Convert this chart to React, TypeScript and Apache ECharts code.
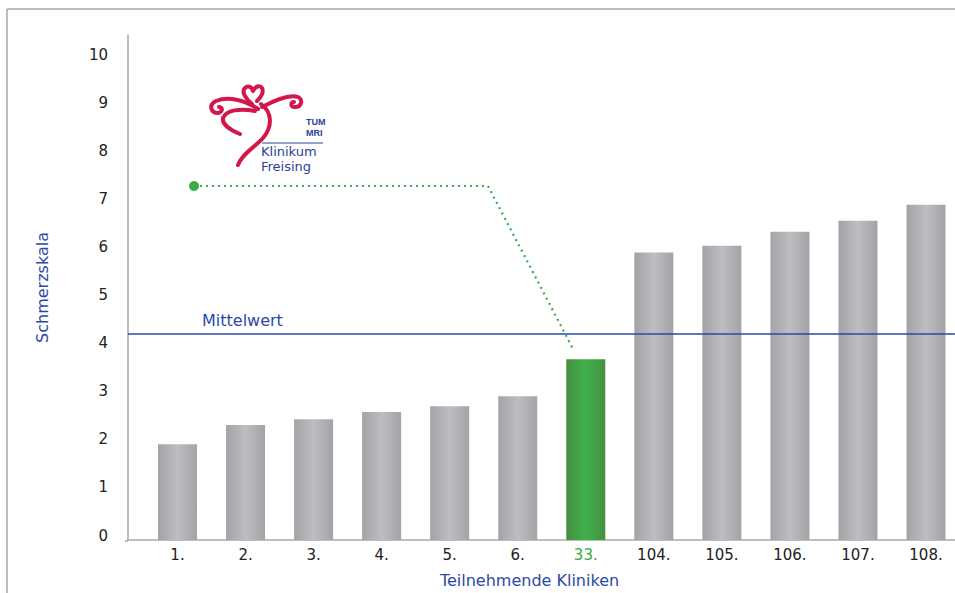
import React, { useEffect, useRef } from "react";
import * as echarts from "echarts";

const categories = ["1.", "2.", "3.", "4.", "5.", "6.", "33.", "104.", "105.", "106.", "107.", "108."];
const painValues = [1.99, 2.39, 2.51, 2.66, 2.78, 2.99, 3.76, 5.98, 6.12, 6.41, 6.64, 6.97];
const highlightIndex = 6;
const meanValue = 4.29;
const yTicks = [0, 1, 2, 3, 4, 5, 6, 7, 8, 9, 10];

const BLUE = "#2b4aa6";
const GREEN = "#3cab48";
const RED = "#d3164b";
const LOGO_BLUE = "#2d4199";

const ribbonPaths = [
  "M 252 104 C 246 99 241 92 245 88 C 248 85 252 87 253 91 C 255 86 260 85 262 88 C 264 92 261 97 257 101",
  "M 261 104 C 272 112 273 126 263 138 C 254 148 242 154 238 165",
  "M 258 109 C 245 100 228 96 216 101 C 208 105 211 113 218 113 C 223 112 223 107 219 107",
  "M 255 111 C 240 108 226 110 223 118 C 222 124 230 130 240 134",
  "M 262 107 C 275 100 290 94 298 97 C 304 100 301 108 294 107 C 290 106 291 102 294 102",
];

let registered = false;
function registerShapes() {
  if (registered) return;
  ribbonPaths.forEach((d, i) => {
    echarts.graphic.registerShape("ribbon" + i, echarts.graphic.extendPath(d, {}));
  });
  registered = true;
}

export default function App() {
  const ref = useRef<HTMLDivElement>(null);
  useEffect(() => {
    if (!ref.current) return;
    registerShapes();
    const chart = echarts.init(ref.current, null, { renderer: "svg" });
    const grayGrad = new echarts.graphic.LinearGradient(0, 0, 1, 0, [
      { offset: 0, color: "#a2a3a7" },
      { offset: 0.5, color: "#bdbec2" },
      { offset: 1, color: "#a2a3a7" },
    ]);
    const greenGrad = new echarts.graphic.LinearGradient(0, 0, 1, 0, [
      { offset: 0, color: "#46903f" },
      { offset: 0.5, color: "#3fb04b" },
      { offset: 1, color: "#46903f" },
    ]);
    const font = "DejaVu Sans";
    const option: any = {
      animation: false,
      backgroundColor: "#ffffff",
      grid: { left: 128, right: 0, top: 35, bottom: 52 },
      xAxis: {
        type: "value",
        min: -0.7274,
        max: 11.426,
        name: "Teilnehmende Kliniken",
        nameLocation: "middle",
        nameGap: 32,
        nameTextStyle: { color: BLUE, fontSize: 16, fontFamily: font, padding: [0, 24, 0, 0] },
        axisLine: { show: true, onZero: false, lineStyle: { color: "#a8a8a8", width: 1.5 } },
        axisTick: { show: false },
        splitLine: { show: false },
        axisLabel: {
          customValues: categories.map((_, i) => i),
          formatter: (v: number) => {
            const i = Math.round(v);
            return i === highlightIndex ? "{hl|" + categories[i] + "}" : categories[i];
          },
          color: "#222",
          fontSize: 15,
          fontFamily: font,
          margin: 7,
          rich: { hl: { color: "#3aa83a", fontSize: 15, fontFamily: font } },
        },
      },
      yAxis: {
        type: "value",
        min: 0,
        max: 10.5,
        interval: 1,
        name: "Schmerzskala",
        nameLocation: "middle",
        nameGap: 78,
        nameRotate: 90,
        nameTextStyle: { color: BLUE, fontSize: 16, fontFamily: font },
        axisLine: { show: true, onZero: false, lineStyle: { color: "#a8a8a8", width: 1.5 } },
        axisTick: { show: false },
        splitLine: { show: false },
        axisLabel: {
          showMaxLabel: false,
          formatter: (v: number) => (yTicks.includes(v) ? String(v) : ""),
          color: "#222",
          fontSize: 15,
          fontFamily: font,
          margin: 20,
          verticalAlign: "bottom",
          lineHeight: 9,
        },
      },
      series: [
        {
          type: "bar",
          barWidth: 39,
          data: painValues.map((v, i) => ({
            value: [i, v],
            itemStyle: { color: i === highlightIndex ? greenGrad : grayGrad },
          })),
          markLine: {
            silent: true,
            symbol: "none",
            data: [{ yAxis: meanValue }],
            lineStyle: { color: BLUE, width: 1.5, type: "solid" },
            label: {
              show: true,
              formatter: "Mittelwert",
              position: "insideStartTop",
              color: BLUE,
              fontSize: 16,
              fontFamily: font,
              padding: [0, 0, 0, 69],
            },
          },
        },
      ],
      graphic: [
        { type: "line", shape: { x1: 7, y1: 9, x2: 955, y2: 9 }, style: { stroke: "#a8a8a8", lineWidth: 1.5 } },
        { type: "line", shape: { x1: 7, y1: 9, x2: 7, y2: 593 }, style: { stroke: "#a8a8a8", lineWidth: 1.5 } },
        { type: "line", shape: { x1: 125, y1: 541, x2: 128, y2: 541 }, style: { stroke: "#a8a8a8", lineWidth: 1.5 } },
        ...ribbonPaths.map((_, i) => ({
          type: "ribbon" + i,
          x: 0,
          y: 0,
          style: { fill: null, stroke: RED, lineWidth: 4, lineCap: "round", lineJoin: "round" },
        })),
        {
          type: "text",
          x: 306,
          y: 116,
          style: {
            text: "TUM\nMRI",
            fill: LOGO_BLUE,
            font: "bold 9px 'Liberation Sans Narrow', 'Liberation Sans'",
            lineHeight: 11,
          },
        },
        { type: "line", shape: { x1: 262, y1: 143, x2: 323, y2: 143 }, style: { stroke: LOGO_BLUE, lineWidth: 1 } },
        {
          type: "text",
          x: 261,
          y: 144,
          style: {
            text: "Klinikum\nFreising",
            fill: LOGO_BLUE,
            font: "13px 'DejaVu Sans'",
            lineHeight: 15,
          },
        },
        {
          type: "polyline",
          shape: { points: [[194, 186], [488, 186], [573, 349]] },
          style: { fill: null, stroke: GREEN, lineWidth: 2.2, lineDash: [2, 4] },
        },
        { type: "circle", shape: { cx: 194, cy: 186, r: 5 }, style: { fill: GREEN } },
      ],
    };
    chart.setOption(option);
    return () => chart.dispose();
  }, []);
  return (
    <div
      ref={ref}
      style={{ position: "fixed", left: 0, top: 0, width: 955, height: 593 }}
    />
  );
}
